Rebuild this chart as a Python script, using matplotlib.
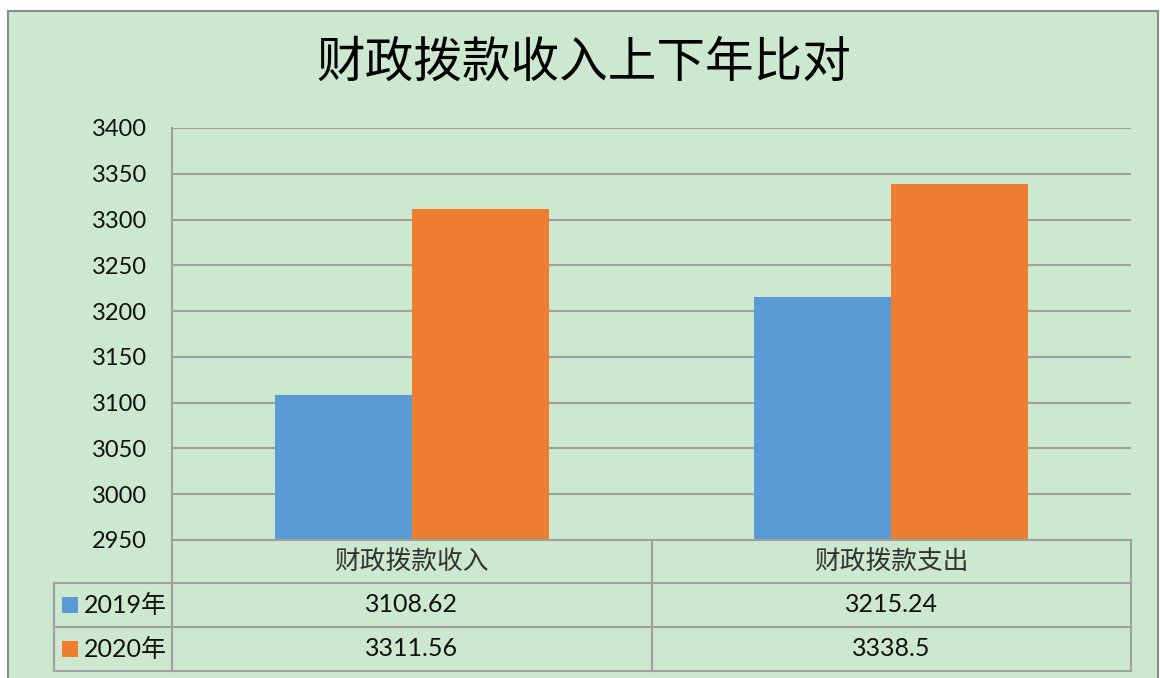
import matplotlib
matplotlib.use("Agg")
import matplotlib.pyplot as plt
from matplotlib.lines import Line2D
from matplotlib.patches import Rectangle
import matplotlib.transforms as mtransforms

# ---- data ----
title = "财政拨款收入上下年比对"
categories = ["财政拨款收入", "财政拨款支出"]
series_names = ["2019年", "2020年"]
values_2019 = [3108.62, 3215.24]
values_2020 = [3311.56, 3338.5]
value_labels_2019 = ["3108.62", "3215.24"]
value_labels_2020 = ["3311.56", "3338.5"]
y_ticks = [2950, 3000, 3050, 3100, 3150, 3200, 3250, 3300, 3350, 3400]

# ---- style ----
W, H = 1160, 678
BG = "#CCE8CF"
BLUE = "#5B9BD5"
ORANGE = "#ED7D31"
GRID = "#A0A0A0"
NUM_FONT = ["Lato", "Noto Sans CJK SC"]
CJK_FONT = ["Noto Sans CJK SC", "DejaVu Sans"]

fig = plt.figure(figsize=(W / 100, H / 100), dpi=100)
fig.patch.set_facecolor("white")

def fx(px):
    return px / W

def fy(py):
    return 1 - py / H

# outer chart border / background
fig.add_artist(Rectangle((fx(8), fy(690)), fx(1158) - fx(8), fy(11) - fy(690),
                         transform=fig.transFigure, facecolor=BG,
                         edgecolor="#8C8C8C", linewidth=1.5, zorder=0))

# plot area
left, right, top, bottom = 172, 1131, 128, 540
ax = fig.add_axes([fx(left), fy(bottom), fx(right) - fx(left), fy(top) - fy(bottom)])
ax.set_facecolor("none")

x = list(range(len(categories)))
bw = 0.286
ax.bar([i - bw / 2 for i in x], values_2019, width=bw, color=BLUE, zorder=3,
       label=series_names[0])
ax.bar([i + bw / 2 for i in x], values_2020, width=bw, color=ORANGE, zorder=3,
       label=series_names[1])

ax.set_xlim(-0.5, len(categories) - 0.5)
ax.set_ylim(y_ticks[0], y_ticks[-1])
ax.set_yticks(y_ticks)
ax.set_yticklabels([str(v) for v in y_ticks], fontsize=17, family=NUM_FONT, color="#111111")
ax.tick_params(axis="y", length=0, pad=18)
ax.set_xticks([])
ax.yaxis.grid(True, color=GRID, linewidth=1.5, zorder=1)
for s in ["top", "right", "bottom"]:
    ax.spines[s].set_visible(False)
ax.spines["left"].set_color(GRID)
ax.spines["left"].set_linewidth(1.5)

# title
fig.text(fx(584), fy(63), title, ha="center", va="center", fontsize=35,
         family=CJK_FONT, color="#000000")

# ---- data table ----
def hline(y, x0, x1):
    fig.add_artist(Line2D([fx(x0), fx(x1)], [fy(y), fy(y)], transform=fig.transFigure,
                          color=GRID, linewidth=1.5, zorder=2))

def vline(xp, y0, y1):
    fig.add_artist(Line2D([fx(xp), fx(xp)], [fy(y0), fy(y1)], transform=fig.transFigure,
                          color=GRID, linewidth=1.5, zorder=2))

row_cat, row_a, row_b, row_end = 540, 583, 627, 671
hline(row_cat, left, right)
hline(row_a, 54, right)
hline(row_b, 54, right)
hline(row_end, 54, right)
vline(left, row_cat, row_end)
vline(54, row_a, row_end)
vline(right, row_cat, row_end)
# group separators
blend = mtransforms.blended_transform_factory(ax.transData, fig.transFigure)
for i in range(1, len(categories)):
    fig.add_artist(Line2D([i - 0.5, i - 0.5], [fy(row_cat), fy(row_end)], transform=blend,
                          color=GRID, linewidth=1.5, zorder=2))

for i, cat in enumerate(categories):
    fig.text(i, fy((row_cat + row_a) / 2 + 1), cat, transform=blend, ha="center",
             va="center", fontsize=18.5, family=CJK_FONT, color="#333333")
    fig.text(i, fy((row_a + row_b) / 2), value_labels_2019[i], transform=blend,
             ha="center", va="center", fontsize=18, family=NUM_FONT, color="#111111")
    fig.text(i, fy((row_b + row_end) / 2), value_labels_2020[i], transform=blend,
             ha="center", va="center", fontsize=18, family=NUM_FONT, color="#111111")

# legend keys in the table
for name, color, (r0, r1) in [(series_names[0], BLUE, (row_a, row_b)),
                               (series_names[1], ORANGE, (row_b, row_end))]:
    yc = (r0 + r1) / 2
    fig.add_artist(Rectangle((fx(62), fy(yc + 8)), fx(16), fy(0) - fy(16),
                             transform=fig.transFigure, facecolor=color,
                             edgecolor="none", zorder=3))
    fig.text(fx(84), fy(yc), name, ha="left", va="center", fontsize=18,
             family=NUM_FONT, color="#111111")

fig.savefig("out.png", dpi=100, facecolor=fig.get_facecolor())
